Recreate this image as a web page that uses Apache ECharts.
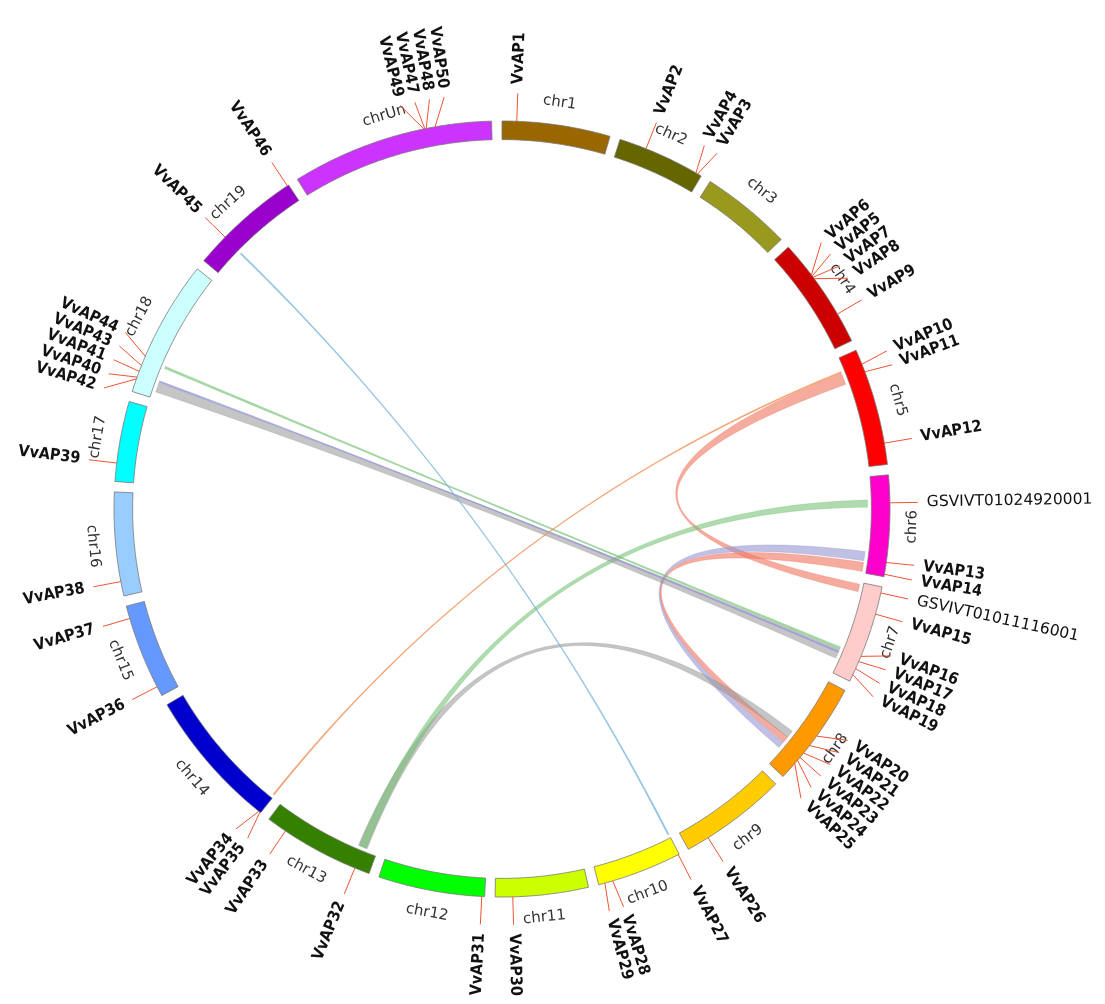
<!DOCTYPE html>
<html>
<head>
<meta charset="utf-8">
<script src="https://cdn.jsdelivr.net/npm/echarts@6/dist/echarts.min.js"></script>
<style>
  html, body { margin: 0; padding: 0; background: #fff; }
  #chart { width: 1105px; height: 1004px; }
</style>
</head>
<body>
<div id="chart"></div>
<script>
// chromosomes (Mb)
const chrNames = ["chr1", "chr2", "chr3", "chr4", "chr5", "chr6", "chr7", "chr8", "chr9", "chr10",
  "chr11", "chr12", "chr13", "chr14", "chr15", "chr16", "chr17", "chr18", "chr19", "chrUn"];
const chrLengths = [23.04, 18.78, 19.34, 23.87, 25.02, 21.51, 21.03, 22.39, 23.01, 18.14,
  19.82, 22.70, 24.07, 30.27, 20.30, 22.05, 17.13, 29.36, 24.02, 43.15];
const chrColors = ["#996600", "#666600", "#99991e", "#cc0000", "#ff0000", "#ff00cc", "#ffcccc", "#ff9900", "#ffcc00", "#ffff00",
  "#ccff00", "#00ff00", "#358000", "#0000cc", "#6699ff", "#99ccff", "#00ffff", "#ccffff", "#9900cc", "#cc33ff"];

// genes: name, chromosome, position (Mb)
const geneNames = ["VvAP1", "VvAP2", "VvAP4", "VvAP3", "VvAP6", "VvAP5", "VvAP7", "VvAP8", "VvAP9",
  "VvAP10", "VvAP11", "VvAP12", "GSVIVT01024920001", "VvAP13", "VvAP14",
  "GSVIVT01011116001", "VvAP15", "VvAP16", "VvAP17", "VvAP18", "VvAP19",
  "VvAP20", "VvAP21", "VvAP22", "VvAP23", "VvAP24", "VvAP25", "VvAP26",
  "VvAP27", "VvAP28", "VvAP29", "VvAP30", "VvAP31", "VvAP32", "VvAP33", "VvAP35", "VvAP34",
  "VvAP36", "VvAP37", "VvAP38", "VvAP39", "VvAP42", "VvAP40", "VvAP41", "VvAP43", "VvAP44",
  "VvAP45", "VvAP46", "VvAP49", "VvAP47", "VvAP48", "VvAP50"];
const geneChrs = ["chr1", "chr2", "chr2", "chr2", "chr4", "chr4", "chr4", "chr4", "chr4",
  "chr5", "chr5", "chr5", "chr6", "chr6", "chr6",
  "chr7", "chr7", "chr7", "chr7", "chr7", "chr7",
  "chr8", "chr8", "chr8", "chr8", "chr8", "chr8", "chr9",
  "chr10", "chr10", "chr10", "chr11", "chr12", "chr13", "chr13", "chr14", "chr14",
  "chr15", "chr15", "chr16", "chr17", "chr18", "chr18", "chr18", "chr18", "chr18",
  "chr19", "chr19", "chrUn", "chrUn", "chrUn", "chrUn"];
const genePositions = [3.1, 5.8, 17.5, 17.9, 7.6, 7.9, 8.2, 8.6, 17.5,
  3.2, 4.9, 20.5, 5.9, 18.5, 21.0,
  1.3, 5.9, 15.3, 16.5, 18.1, 19.5,
  11.3, 13.8, 15.8, 17.0, 17.8, 18.7, 18.2,
  0.2, 15.1, 16.8, 16.1, 0.6, 3.2, 19.8, 0.2, 0.5,
  2.1, 17.6, 3.1, 3.9, 2.8, 3.2, 4.5, 5.8, 7.9,
  6.7, 23.7, 28.8, 29.0, 29.3, 31.2];

// links: [chrA, startA, endA, chrB, startB, endB] (Mb)
const links = [
  ["chr5", 3.4, 6.0, "chr7", 0.4, 2.1],
  ["chr6", 16.7, 18.8, "chr8", 16.8, 18.3],
  ["chr6", 19.2, 21.2, "chr8", 15.3, 16.7],
  ["chr8", 13.6, 15.3, "chr13", 2.3, 4.4],
  ["chr6", 5.2, 6.8, "chr13", 2.5, 4.2],
  ["chr18", 1.5, 3.7, "chr7", 15.7, 17.8],
  ["chr18", 3.8, 4.1, "chr7", 16.1, 16.4],
  ["chr18", 7.1, 7.6, "chr7", 15.1, 15.6],
  ["chr5", 3.0, 3.3, "chr14", 0.1, 0.4],
  ["chr19", 6.4, 6.7, "chr10", 0.0, 0.3]
];
const linkColors = ["rgba(240,120,100,0.62)", "rgba(150,150,210,0.6)", "rgba(240,120,100,0.62)",
  "rgba(150,150,150,0.55)", "rgba(110,190,110,0.55)", "rgba(150,150,150,0.55)",
  "rgba(150,150,220,0.8)", "rgba(110,190,110,0.6)", "rgba(240,140,80,0.75)", "rgba(120,180,220,0.75)"];

const GAP = 2.2;
const chrStart = [];
let acc = 0;
chrLengths.forEach(function (l) { chrStart.push(acc); acc += l + GAP; });
const TOTAL = acc;

// radii on a 0-100 radius axis
const R_OUT = 100, R_IN = 95.2, R_LINK = 94.2, R_TICK = 107.2, R_TEXT = 109.5, R_CHR = 105.8;

function gpos(chr, mb) { return chrStart[chrNames.indexOf(chr)] + mb; }
function toDeg(v) { return v / TOTAL * 360; }

// spread gene labels so they keep a minimum angular distance
function spreadLabels(vals, sep) {
  const blocks = [];
  vals.forEach(function (v, i) {
    blocks.push({ sum: v - i * sep, n: 1 });
    while (blocks.length > 1) {
      const b = blocks[blocks.length - 1], a = blocks[blocks.length - 2];
      if (a.sum / a.n <= b.sum / b.n) break;
      blocks.pop(); a.sum += b.sum; a.n += b.n;
    }
  });
  const out = [];
  let i = 0;
  blocks.forEach(function (b) {
    const m = b.sum / b.n;
    for (let k = 0; k < b.n; k++) { out.push(m + i * sep); i++; }
  });
  return out;
}
const geneVals = geneNames.map(function (n, i) { return gpos(geneChrs[i], genePositions[i]); });
const labelVals = spreadLabels(geneVals, 2.05 / 360 * TOTAL);

function arc(api, r, a0, a1) {
  const pts = [];
  const n = Math.max(2, Math.ceil(Math.abs(a1 - a0) * 2));
  for (let k = 0; k <= n; k++) pts.push(api.coord([r, a0 + (a1 - a0) * k / n]));
  return pts;
}
function bezier(p0, c, p2) {
  const pts = [];
  for (let k = 1; k < 60; k++) {
    const t = k / 60, u = 1 - t;
    pts.push([u * u * p0[0] + 2 * u * t * c[0] + t * t * p2[0], u * u * p0[1] + 2 * u * t * c[1] + t * t * p2[1]]);
  }
  return pts;
}

const chart = echarts.init(document.getElementById("chart"));

chart.setOption({
  backgroundColor: "#fff",
  animation: false,
  polar: { center: [502, 509], radius: 388 },
  angleAxis: {
    type: "value", min: 0, max: TOTAL, startAngle: 90, clockwise: true,
    axisLine: { show: false }, axisTick: { show: false }, axisLabel: { show: false }, splitLine: { show: false }
  },
  radiusAxis: {
    type: "value", min: 0, max: 100,
    axisLine: { show: false }, axisTick: { show: false }, axisLabel: { show: false }, splitLine: { show: false }
  },
  series: [
    {
      // links
      type: "custom",
      coordinateSystem: "polar",
      silent: true,
      data: links.map(function (l) { return [R_LINK, gpos(l[0], l[1])]; }),
      renderItem: function (params, api) {
        const l = links[params.dataIndex];
        const a1 = gpos(l[0], l[1]), a2 = gpos(l[0], l[2]);
        const b1 = gpos(l[3], l[4]), b2 = gpos(l[3], l[5]);
        const c = api.coord([0, 0]);
        const sideA = arc(api, R_LINK, a1, a2);
        const sideB = arc(api, R_LINK, b1, b2);
        const pts = sideA
          .concat(bezier(sideA[sideA.length - 1], c, sideB[0]))
          .concat(sideB)
          .concat(bezier(sideB[sideB.length - 1], c, sideA[0]));
        return {
          type: "polygon",
          shape: { points: pts },
          style: { fill: linkColors[params.dataIndex], stroke: linkColors[params.dataIndex], lineWidth: 0.6 }
        };
      }
    },
    {
      // chromosome ideograms
      type: "custom",
      coordinateSystem: "polar",
      silent: true,
      data: chrNames.map(function (n, i) { return [R_OUT, chrStart[i]]; }),
      renderItem: function (params, api) {
        const i = params.dataIndex;
        const s = chrStart[i], e = chrStart[i] + chrLengths[i];
        const pts = arc(api, R_OUT, s, e).concat(arc(api, R_IN, e, s));
        const mid = (s + e) / 2;
        const deg = toDeg(mid);
        const rot = (deg < 90 || deg > 270) ? -deg : 180 - deg;
        const lp = api.coord([R_CHR, mid]);
        return {
          type: "group",
          children: [
            {
              type: "polygon",
              shape: { points: pts },
              style: { fill: chrColors[i], stroke: "#777", lineWidth: 0.8 }
            },
            {
              type: "text",
              x: lp[0], y: lp[1],
              rotation: rot * Math.PI / 180,
              style: {
                text: chrNames[i], fill: "#333", align: "center", verticalAlign: "middle",
                font: "15px 'DejaVu Sans'"
              }
            }
          ]
        };
      }
    },
    {
      // gene ticks and labels
      type: "custom",
      coordinateSystem: "polar",
      silent: true,
      data: geneNames.map(function (n, i) { return [R_OUT, geneVals[i]]; }),
      renderItem: function (params, api) {
        const i = params.dataIndex;
        const p0 = api.coord([R_OUT, geneVals[i]]);
        const p1 = api.coord([R_TICK, labelVals[i]]);
        const tp = api.coord([R_TEXT, labelVals[i]]);
        const deg = toDeg(labelVals[i]);
        const right = deg <= 180;
        const rot = right ? 90 - deg : 270 - deg;
        const isGS = geneNames[i].indexOf("GSVIVT") === 0;
        return {
          type: "group",
          children: [
            {
              type: "line",
              shape: { x1: p0[0], y1: p0[1], x2: p1[0], y2: p1[1] },
              style: { stroke: "#ee5533", lineWidth: 1 }
            },
            {
              type: "text",
              x: tp[0], y: tp[1],
              rotation: rot * Math.PI / 180,
              style: {
                text: geneNames[i], fill: "#111",
                align: right ? "left" : "right", verticalAlign: "middle",
                font: isGS ? "15.5px 'DejaVu Sans'" : "bold 16px 'DejaVu Sans Condensed', 'DejaVu Sans'"
              }
            }
          ]
        };
      }
    }
  ]
});
</script>
</body>
</html>
